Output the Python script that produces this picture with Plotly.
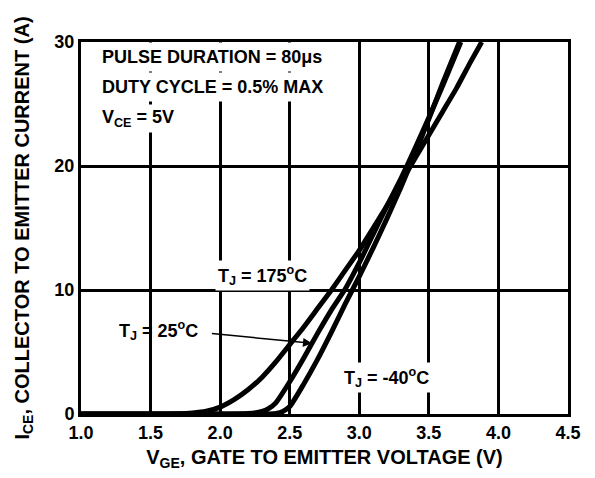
import plotly.graph_objects as go

# ---- data ----
v_175 = [1.0, 1.5, 1.7, 1.8, 1.9, 2.0, 2.1, 2.2, 2.3, 2.4, 2.5, 2.6, 2.7, 2.8, 2.9, 3.0, 3.1, 3.2, 3.3, 3.4, 3.5, 3.6, 3.7, 3.8, 3.88]
i_175 = [0, 0, 0.02, 0.08, 0.22, 0.55, 1.15, 1.95, 2.95, 4.2, 5.6, 7.0, 8.5, 10.0, 11.6, 13.2, 15.0, 16.8, 18.7, 20.6, 22.5, 24.4, 26.3, 28.4, 30]

v_25 = [1.0, 2.0, 2.2, 2.3, 2.35, 2.4, 2.5, 2.6, 2.7, 2.8, 2.9, 3.0, 3.1, 3.2, 3.3, 3.4, 3.5, 3.6, 3.73]
i_25 = [0, 0, 0.04, 0.2, 0.45, 0.9, 2.6, 4.5, 6.5, 8.4, 10.1, 12.2, 14.5, 16.8, 19.0, 21.4, 23.9, 26.5, 30]

v_m40 = [1.0, 2.3, 2.4, 2.45, 2.5, 2.6, 2.7, 2.8, 2.9, 3.0, 3.1, 3.2, 3.3, 3.4, 3.5, 3.6, 3.72]
i_m40 = [0, 0, 0.05, 0.2, 0.6, 2.4, 4.4, 6.6, 8.9, 11.1, 13.4, 15.8, 18.3, 21.0, 23.8, 26.7, 30]

x_ticks = [1.0, 1.5, 2.0, 2.5, 3.0, 3.5, 4.0, 4.5]
y_ticks = [0, 10, 20, 30]

FONT = "Liberation Sans"

fig = go.Figure()
for v, i in [(v_175, i_175), (v_25, i_25), (v_m40, i_m40)]:
    fig.add_trace(go.Scatter(x=v, y=i, mode="lines", line=dict(color="black", width=5, shape="spline", smoothing=0.5),
                             showlegend=False, hoverinfo="skip"))

txt = dict(family=FONT, size=18, color="black", weight="bold")

ann = [
    dict(x=1.113, y=28.76, text="PULSE DURATION = 80μs", xanchor="left", yanchor="middle", showarrow=False, font=txt,
         bgcolor="white", borderpad=4),
    dict(x=1.113, y=26.35, text="DUTY CYCLE = 0.5% MAX", xanchor="left", yanchor="middle", showarrow=False, font=txt,
         bgcolor="white", borderpad=4),
    dict(x=1.13, y=23.85, text="V<sub>CE</sub> = 5V", xanchor="left", yanchor="middle", showarrow=False, font=txt,
         bgcolor="white", borderpad=2),
    dict(x=2.304, y=11.18, text="T<sub>J</sub> = 175<sup>o</sup>C", showarrow=False, font=txt, bgcolor="white",
         borderpad=2),
    dict(x=1.56, y=6.75, text="T<sub>J</sub> = 25<sup>o</sup>C", showarrow=False, font=txt),
    dict(x=3.197, y=2.96, text="T<sub>J</sub> = -40<sup>o</sup>C", showarrow=False, font=txt, bgcolor="white",
         borderpad=2),
    dict(x=2.66, y=5.7, ax=1.93, ay=6.5, axref="x", ayref="y", xref="x", yref="y", text="", showarrow=True,
         arrowhead=2, arrowsize=1.2, arrowwidth=1.5, arrowcolor="black"),
]

fig.update_layout(
    width=587, height=470,
    margin=dict(l=68, r=27, t=34, b=64),
    paper_bgcolor="white", plot_bgcolor="white",
    annotations=ann,
    font=dict(family=FONT, color="black"),
)
axfont = dict(family=FONT, size=18, color="black", weight="bold")
titlefont = dict(family=FONT, size=20, color="black", weight="bold")
fig.update_xaxes(range=[1.0, 4.5], tickvals=x_ticks, ticktext=[f"{t:.1f}" for t in x_ticks],
                 showgrid=True, gridcolor="black", gridwidth=3, showline=True, linecolor="black", linewidth=3,
                 mirror=True, zeroline=False, ticks="", tickfont=axfont,
                 title=dict(text="V<sub>GE</sub>, GATE TO EMITTER VOLTAGE (V)", standoff=9, font=titlefont))
fig.update_yaxes(range=[0, 30], tickvals=y_ticks,
                 showgrid=True, gridcolor="black", gridwidth=3, showline=True, linecolor="black", linewidth=3,
                 mirror=True, zeroline=False, ticks="", tickfont=axfont,
                 title=dict(text="I<sub>CE</sub>, COLLECTOR TO EMITTER CURRENT (A)", standoff=20, font=titlefont))

fig.write_html("out.html")
